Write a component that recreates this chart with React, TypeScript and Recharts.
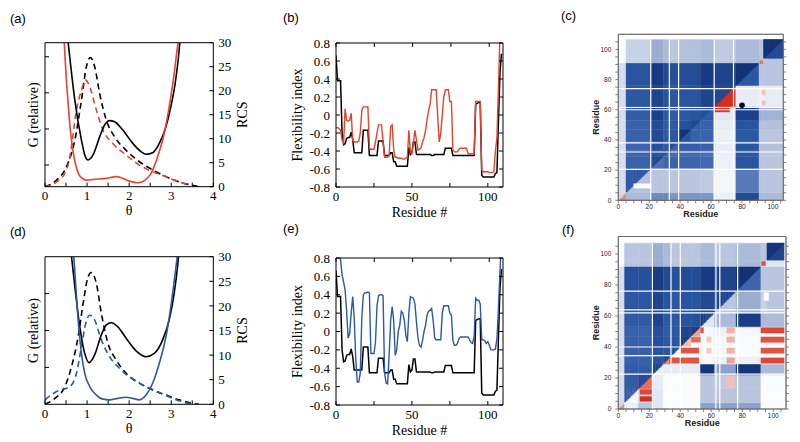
import React from 'react';
import { ComposedChart, Line, LineChart, ReferenceArea, ReferenceLine, Scatter, XAxis, YAxis } from 'recharts';

const SERIF = '"Liberation Serif", "Times New Roman", serif';
const SANS = '"Liberation Sans", Arial, sans-serif';
const RED = '#e4432c';
const BLUE = '#2b58a7';

type Pt = [number, number];
type Box = [number, number, number, number, number]; // x1, x2, y1, y2, value

// ---- (a) theta scans: G on left axis, RCS on right axis ----
const aBlackG: Pt[] = [[0.551, 3.39], [0.614, 2.72], [0.709, 1.8], [0.866, 0.69], [0.945, 0.28], [1.024, 0.14], [1.142, 0.28], [1.299, 0.78], [1.417, 1.11], [1.535, 1.23], [1.654, 1.2], [1.85, 0.97], [2.087, 0.6], [2.283, 0.37], [2.402, 0.3], [2.559, 0.34], [2.717, 0.6], [2.874, 1.06], [2.992, 1.62], [3.094, 2.26], [3.173, 3.0], [3.205, 3.39]];
const aRedG: Pt[] = [[0.457, 3.39], [0.5, 2.5], [0.55, 1.7], [0.6, 1.0], [0.65, 0.5], [0.72, 0.05], [0.8, -0.25], [0.9, -0.38], [1.0, -0.42], [1.142, -0.4], [1.457, -0.37], [1.693, -0.32], [1.85, -0.37], [2.047, -0.46], [2.205, -0.49], [2.362, -0.43], [2.52, -0.23], [2.677, 0.23], [2.835, 0.88], [2.953, 1.62], [3.071, 2.54], [3.15, 3.28], [3.165, 3.39]];
const aBlackRcs: Pt[] = [[0, 0], [0.276, 1.4], [0.512, 4.2], [0.709, 9.7], [0.866, 18], [0.984, 25], [1.079, 26.9], [1.181, 25], [1.299, 19.4], [1.457, 13.9], [1.654, 10.4], [1.929, 7.6], [2.244, 5.2], [2.559, 3.5], [2.874, 2.1], [3.189, 1.0], [3.504, 0.3], [3.661, 0]];
const aRedRcs: Pt[] = [[0, 0], [0.276, 1.0], [0.512, 3.5], [0.591, 6.25], [0.748, 16], [0.866, 20.1], [0.969, 22.2], [1.063, 20.8], [1.22, 16], [1.378, 11.8], [1.614, 9.0], [1.929, 6.6], [2.244, 4.5], [2.559, 3.1], [2.874, 2.1], [3.189, 1.0], [3.425, 0.35]];

// ---- (d) theta scans ----
const dBlackG: Pt[] = [[0.63, 4.0], [0.709, 3.19], [0.827, 2.1], [0.945, 1.38], [1.047, 1.13], [1.181, 1.34], [1.339, 1.88], [1.457, 2.15], [1.575, 2.21], [1.732, 2.1], [1.929, 1.79], [2.165, 1.45], [2.402, 1.29], [2.598, 1.38], [2.795, 1.74], [2.953, 2.29], [3.071, 3.01], [3.15, 3.73], [3.173, 4.0]];
const dBlueG: Pt[] = [[0.685, 4.0], [0.732, 3.19], [0.787, 2.29], [0.866, 1.38], [0.945, 0.84], [1.063, 0.48], [1.22, 0.25], [1.378, 0.14], [1.535, 0.12], [1.732, 0.16], [1.929, 0.19], [2.087, 0.16], [2.244, 0.12], [2.402, 0.25], [2.559, 0.57], [2.717, 1.11], [2.874, 1.83], [2.992, 2.65], [3.094, 3.55], [3.142, 4.0]];
const dBlackRcs: Pt[] = [[0, 0], [0.236, 1.2], [0.472, 3.6], [0.63, 7.65], [0.787, 13.7], [0.906, 20.5], [1.024, 25.9], [1.102, 26.8], [1.22, 24.6], [1.339, 18.5], [1.496, 12.4], [1.693, 9.0], [1.929, 6.3], [2.244, 4.3], [2.559, 2.9], [2.874, 1.9], [3.189, 0.9], [3.504, 0.2], [3.66, 0]];
const dBlueRcs: Pt[] = [[0, 0.9], [0.197, 2.2], [0.394, 3.0], [0.512, 3.25], [0.63, 3.9], [0.748, 6.3], [0.866, 11.7], [0.969, 16.5], [1.063, 18.1], [1.181, 17.1], [1.339, 13.1], [1.535, 9.7], [1.772, 7.3], [2.087, 5.1], [2.402, 3.6], [2.717, 2.4], [3.031, 1.2], [3.346, 0.34], [3.58, 0]];

// ---- (b)/(e) flexibility index per residue 0..109 ----
const blackFlex = [
  0.66, 0.38, 0.38, 0.38, -0.2, -0.33, -0.32, -0.26, -0.25, -0.25,
  -0.19, -0.27, -0.42, -0.42, -0.42, -0.42, -0.42, -0.42, -0.17, -0.17,
  -0.17, -0.17, -0.45, -0.45, -0.45, -0.45, -0.45, -0.45, -0.29, -0.29,
  -0.29, -0.29, -0.45, -0.45, -0.45, -0.45, -0.42, -0.42, -0.52, -0.52,
  -0.57, -0.57, -0.57, -0.57, -0.57, -0.57, -0.57, -0.57, -0.36, -0.44,
  -0.42, -0.3, -0.3, -0.44, -0.44, -0.44, -0.44, -0.44, -0.44, -0.44,
  -0.44, -0.44, -0.44, -0.45, -0.45, -0.44, -0.44, -0.44, -0.44, -0.44,
  -0.44, -0.44, -0.37, -0.37, -0.37, -0.37, -0.37, -0.45, -0.45, -0.45,
  -0.45, -0.45, -0.45, -0.45, -0.45, -0.45, -0.45, -0.45, -0.45, -0.45,
  -0.45, -0.45, 0.12, 0.13, 0.14, 0.14, -0.67, -0.69, -0.69, -0.69,
  -0.69, -0.69, -0.69, -0.69, -0.69, -0.65, -0.64, -0.07, 0.47, 0.68,
];
const redFlex = [
  -0.14, -0.14, -0.15, -0.17, -0.28, -0.31, 0.07, -0.06, -0.07, -0.06,
  0.02, -0.28, -0.3, -0.3, -0.3, -0.29, -0.2, 0.05, 0.09, 0.09,
  0.09, 0.09, -0.37, -0.38, -0.38, -0.38, -0.3, -0.2, -0.11, -0.11,
  -0.11, -0.3, -0.47, -0.47, -0.47, -0.45, -0.13, -0.11, -0.39, -0.47,
  -0.47, -0.48, -0.48, -0.48, -0.49, -0.49, -0.48, -0.47, -0.17, -0.42,
  -0.43, -0.3, -0.17, -0.28, -0.39, -0.38, -0.37, -0.3, -0.25, -0.17,
  -0.05, 0.05, 0.12, 0.28, 0.28, 0.28, 0.28, -0.02, -0.3, -0.2,
  0.0, 0.2, 0.28, 0.28, 0.28, 0.15, 0.15, -0.39, -0.41, -0.41,
  -0.41, -0.38, -0.37, -0.37, -0.37, -0.37, -0.37, -0.43, -0.43, -0.43,
  -0.43, -0.43, 0.15, 0.15, 0.15, 0.15, -0.61, -0.63, -0.63, -0.63,
  -0.63, -0.64, -0.64, -0.64, -0.63, -0.4, -0.25, 0.3, 0.9, 1.2,
];
const blueFlex = [
  1.2, 1.1, 0.95, 0.78, 0.62, 0.54, 0.45, 0.22, -0.07, -0.02,
  0.2, 0.38, 0.15, -0.3, -0.55, -0.55, -0.45, 0.15, 0.4, 0.42,
  0.42, 0.43, 0.42, -0.24, -0.24, -0.24, -0.12, 0.28, 0.39, 0.4,
  0.4, 0.39, -0.45, -0.56, -0.57, -0.26, 0.12, 0.27, 0.12, -0.26,
  -0.2, 0.0, 0.07, 0.22, 0.2, 0.12, -0.04, -0.11, 0.2, 0.38,
  0.37, 0.36, 0.3, 0.1, -0.07, -0.15, -0.17, -0.1, 0.0, 0.07,
  0.18, 0.22, 0.23, 0.25, 0.12, -0.07, -0.09, -0.09, -0.09, -0.09,
  0.2, 0.28, 0.28, 0.28, 0.28, 0.2, 0.18, -0.1, -0.15, -0.15,
  -0.13, -0.08, -0.06, -0.06, -0.06, -0.06, -0.06, -0.06, -0.09, -0.12,
  -0.13, -0.05, 0.36, 0.34, 0.34, 0.3, -0.09, -0.09, -0.1, -0.13,
  -0.11, -0.15, -0.2, -0.2, -0.2, -0.19, -0.08, 0.25, 0.65, 1.0,
];

// ---- (c) contact map: segment breaks, block values (row = y segment), +blue / -red ----
const cBreaks = [0, 5, 21, 29, 33, 39, 47, 53, 62, 76, 91, 94, 106.5];
const cGrid = [
  [0.2, 0.35, 0.55, 0.55, 0.5, 0.5, 0.5, 0.5, 0.1, 0.85, 0.35, 0.35],
  [0.2, 0.78, 0.3, 0.3, 0.3, 0.3, 0.3, 0.28, 0.06, 0.62, 0.3, 0.3],
  [0.2, 0.72, 0.85, 0.7, 0.7, 0.7, 0.7, 0.68, 0.1, 0.8, 0.3, 0.3],
  [0.2, 0.7, 0.8, 0.8, 0.68, 0.68, 0.68, 0.66, 0.1, 0.78, 0.3, 0.3],
  [0.2, 0.7, 0.82, 0.76, 0.82, 0.74, 0.74, 0.72, 0.12, 0.8, 0.32, 0.32],
  [0.2, 0.72, 0.85, 0.76, 0.78, 0.96, 0.72, 0.7, 0.1, 0.78, 0.3, 0.3],
  [0.2, 0.72, 0.85, 0.76, 0.76, 0.82, 0.86, 0.72, 0.12, 0.8, 0.32, 0.32],
  [0.2, 0.75, 0.9, 0.78, 0.76, 0.78, 0.8, 0.82, 0.15, 0.9, 0.38, 0.38],
  [0.2, 0.78, 0.88, 0.8, 0.78, 0.8, 0.8, 0.88, 0.85, 0.12, 0.1, 0.12],
  [0.2, 0.8, 0.93, 0.85, 0.82, 0.84, 0.84, 0.93, 0.88, 0.97, 0.3, 0.3],
  [0.03, 0.25, 0.4, 0.35, 0.3, 0.32, 0.32, 0.35, 0.28, 0.35, 0.3, 0.3],
  [0.03, 0.25, 0.4, 0.35, 0.3, 0.32, 0.32, 0.35, 0.28, 0.35, 0.3, 0.97],
];
const cDiagLower = [-0.5, 0.32, 0.65, 0.68, 0.7, 0.8, 0.75, 0.75, -0.85, 0.78, 0.3, 0.85];
const cPatches: Box[] = [
  [62, 72, 58.5, 62, -0.8],
  [91.5, 93.5, 90.5, 92.5, -0.6],
  [93, 95, 70, 73, -0.3],
  [93, 95, 63, 66, -0.3],
  [10, 21, 8, 11, 0.03],
];
const cLinesX = [21, 33, 39, 62, 74.5];
const cLinesY = [20.5, 32, 38, 60, 61.5, 74];
const cDot = [{ x: 80, y: 63 }];

// ---- (f) contact map ----
const fBreaks = [0, 4, 13, 22, 29, 34, 40, 47, 53, 62, 76, 92, 96, 107];
const fGrid = [
  [0.2, 0.1, 0.3, 0.15, 0.02, 0.02, 0.02, 0.02, 0.45, 0.45, 0.45, 0.02, 0.02],
  [0.2, 0.75, 0.25, 0.15, 0.02, 0.02, 0.02, 0.02, 0.3, 0.3, 0.3, 0.02, 0.02],
  [0.2, 0.75, 0.85, 0.12, 0.02, 0.02, 0.02, 0.02, 0.3, 0.28, 0.3, 0.02, 0.02],
  [0.2, 0.75, 0.75, 0.88, 0.12, 0.12, 0.12, 0.12, 0.95, 0.45, 0.95, 0.35, 0.35],
  [0.2, 0.72, 0.72, 0.8, 0.85, 0.04, 0.04, 0.04, 0.05, 0.1, 0.1, 0.05, 0.05],
  [0.2, 0.72, 0.72, 0.8, 0.78, 0.85, 0.03, 0.03, 0.03, 0.06, 0.03, 0.05, 0.05],
  [0.2, 0.72, 0.72, 0.82, 0.78, 0.8, 0.92, 0.03, 0.03, 0.06, 0.03, 0.05, 0.05],
  [0.2, 0.72, 0.72, 0.82, 0.76, 0.78, 0.88, 0.95, 0.05, 0.1, 0.05, 0.05, 0.05],
  [0.2, 0.76, 0.76, 0.88, 0.78, 0.78, 0.8, 0.82, 0.9, 0.35, 0.92, 0.35, 0.35],
  [0.2, 0.78, 0.78, 0.88, 0.8, 0.78, 0.8, 0.8, 0.86, 0.88, 0.4, 0.25, 0.3],
  [0.2, 0.82, 0.82, 0.92, 0.85, 0.82, 0.84, 0.84, 0.93, 0.88, 0.97, 0.3, 0.3],
  [0.03, 0.3, 0.3, 0.4, 0.35, 0.3, 0.3, 0.3, 0.35, 0.3, 0.35, 0.3, 0.15],
  [0.03, 0.3, 0.3, 0.4, 0.35, 0.3, 0.3, 0.3, 0.35, 0.3, 0.35, 0.3, 0.95],
];
const fDiagLower = [-0.5, 0.05, -0.6, 0.1, -0.5, 0.02, -0.3, -0.4, 0.15, 0.3, 0.7, 0.2, 0.88];
const fPatches: Box[] = [
  [33, 52, 29.5, 33, -0.7],
  [40, 52, 36, 39.5, -0.7],
  [47, 53, 43, 46.5, -0.6],
  [53, 55, 49, 52.5, -0.7],
  [92, 107, 29.5, 33, -0.75],
  [92, 107, 36, 39.5, -0.7],
  [92, 107, 43, 46.5, -0.7],
  [92, 107, 49, 52.5, -0.75],
  [70, 75, 29.5, 33, -0.4],
  [70, 75, 36, 39.5, -0.35],
  [70, 75, 43, 46.5, -0.35],
  [70, 75, 49, 52.5, -0.35],
  [57, 60, 36, 39.5, -0.25],
  [57, 60, 43, 46.5, -0.25],
  [14, 22, 5, 8, -0.85],
  [14, 22, 9.5, 12.5, -0.75],
  [70, 75, 13.5, 21, -0.3],
  [92.5, 95, 92.5, 95, -0.7],
  [94, 97, 70, 75, 0.0],
];
const fLinesX = [22, 34, 40, 63, 65.5, 77];
const fLinesY = [22.5, 34.5, 40, 62, 64, 76];

// ---- axis ticks ----
const thetaTicks = [0, 0.5, 1, 1.5, 2, 2.5, 3, 3.5, 4];
const rcsTicks = [0, 5, 10, 15, 20, 25, 30];
const flexTicks = [-0.8, -0.6, -0.4, -0.2, 0, 0.2, 0.4, 0.6, 0.8];
const residueTicks = [0, 25, 50, 75, 100];
const mapTicks = [0, 5, 10, 15, 20, 25, 30, 35, 40, 45, 50, 55, 60, 65, 70, 75, 80, 85, 90, 95, 100, 105];

// colour map: 0 white, + blue, - red
const blueStops = [[0, 255, 255, 255], [0.1, 236, 240, 247], [0.2, 214, 222, 237], [0.3, 186, 198, 223], [0.45, 140, 162, 204], [0.6, 92, 126, 188], [0.7, 60, 100, 172], [0.8, 40, 84, 160], [0.9, 27, 64, 138], [1, 16, 44, 110]];
const redStops = [[0, 255, 255, 255], [0.3, 243, 190, 180], [0.6, 232, 110, 90], [0.85, 215, 45, 28], [1, 185, 20, 10]];
function shade(v: number) {
  const stops = v < 0 ? redStops : blueStops;
  const a = Math.min(1, Math.abs(v));
  let i = 0;
  while (i < stops.length - 2 && a > stops[i + 1][0]) i++;
  const [p0, r0, g0, b0] = stops[i];
  const [p1, r1, g1, b1] = stops[i + 1];
  const f = (a - p0) / (p1 - p0);
  return `rgb(${Math.round(r0 + (r1 - r0) * f)},${Math.round(g0 + (g1 - g0) * f)},${Math.round(b0 + (b1 - b0) * f)})`;
}

// blocks from the segment grid; diagonal blocks get a lower fill plus stepped upper triangle
function buildCells(breaks: number[], grid: number[][], diagLower: number[], patches: Box[]): Box[] {
  const out: Box[] = [];
  const n = breaks.length - 1;
  for (let r = 0; r < n; r++) {
    for (let c = 0; c < n; c++) {
      const x1 = breaks[c], x2 = breaks[c + 1], y1 = breaks[r], y2 = breaks[r + 1];
      if (r !== c) {
        out.push([x1, x2, y1, y2, grid[r][c]]);
        continue;
      }
      out.push([x1, x2, y1, y2, diagLower[r]]);
      for (let x = x1; x < x2; x += 1) {
        const xe = Math.min(x + 1, x2);
        out.push([x, xe, (x + xe) / 2, y2, grid[r][r]]);
      }
    }
  }
  return out.concat(patches);
}

const blank = () => '';
const black = { stroke: '#000', strokeWidth: 1 };
const serifTick = { fill: '#000', fontSize: 13, fontFamily: SERIF };

type Curve = { pts: Pt[]; axis: 'g' | 'rcs'; color: string; dashed?: boolean };

function ThetaPanel({ top, height, mt, mb, gDomain, gTicks, curves }: { top: number; height: number; mt: number; mb: number; gDomain: number[]; gTicks: number[]; curves: Curve[] }) {
  return (
    <div style={{ position: 'absolute', left: 0, top }}>
      <LineChart width={275} height={height} margin={{ top: mt, right: 4.7, bottom: mb, left: 21 }}>
        <XAxis type="number" dataKey="t" domain={[0, 4]} ticks={thetaTicks} interval={0} allowDataOverflow
          tickFormatter={(v: number) => (Number.isInteger(v) ? String(v) : '')} tickSize={-4} tickMargin={8} height={30}
          axisLine={black} tickLine={black} tick={serifTick}
          label={{ value: 'θ', position: 'insideBottom', offset: 1.5, fontSize: 14, fontFamily: SERIF, fill: '#000' }} />
        <XAxis xAxisId="top" orientation="top" type="number" domain={[0, 4]} ticks={thetaTicks} interval={0} allowDataOverflow
          tickFormatter={blank} tickSize={-4} height={1} axisLine={black} tickLine={black} />
        <YAxis yAxisId="g" type="number" domain={gDomain} ticks={gTicks} interval={0} allowDataOverflow
          tickFormatter={blank} tickSize={-4} width={24} axisLine={black} tickLine={black}
          label={{ value: 'G (relative)', angle: -90, position: 'center', fontSize: 14, fontFamily: SERIF, fill: '#000' }} />
        <YAxis yAxisId="rcs" orientation="right" type="number" domain={[0, 30]} ticks={rcsTicks} interval={0} allowDataOverflow
          tickSize={-4} tickMargin={9} width={57} axisLine={black} tickLine={black} tick={serifTick}
          label={{ value: 'RCS', angle: -90, position: 'center', fontSize: 14, fontFamily: SERIF, fill: '#000' }} />
        {curves.map((c, i) => (
          <Line key={i} data={c.pts.map(([t, v]) => ({ t, v }))} dataKey="v" yAxisId={c.axis} type="monotone"
            stroke={c.color} strokeWidth={1.6} strokeDasharray={c.dashed ? '6 4' : undefined}
            dot={false} activeDot={false} isAnimationActive={false} />
        ))}
      </LineChart>
    </div>
  );
}

function FlexPanel({ top, height, mt, mb, other, color }: { top: number; height: number; mt: number; mb: number; other: number[]; color: string }) {
  const rows = blackFlex.map((b, i) => ({ r: i, black: b, other: other[i] }));
  return (
    <div style={{ position: 'absolute', left: 258, top }}>
      <LineChart width={250} height={height} data={rows} margin={{ top: mt, right: 4, bottom: mb, left: 0 }}>
        <XAxis type="number" dataKey="r" domain={[0, 110]} ticks={residueTicks} interval={0} allowDataOverflow
          tickFormatter={(v: number) => (v % 50 === 0 ? String(v) : '')} tickSize={-4} tickMargin={9} height={30}
          axisLine={black} tickLine={black} tick={serifTick}
          label={{ value: 'Residue #', position: 'insideBottom', offset: 0, fontSize: 14, fontFamily: SERIF, fill: '#000' }} />
        <XAxis xAxisId="top" orientation="top" type="number" domain={[0, 110]} ticks={residueTicks} interval={0} allowDataOverflow
          tickFormatter={blank} tickSize={-4} height={1} axisLine={black} tickLine={black} />
        <YAxis type="number" domain={[-0.8, 0.8]} ticks={flexTicks} interval={0} allowDataOverflow
          tickSize={-4} tickMargin={10} width={78} axisLine={black} tickLine={black} tick={serifTick}
          label={{ value: 'Flexibility index', angle: -90, position: 'center', fontSize: 14, fontFamily: SERIF, fill: '#000' }} />
        <YAxis yAxisId="r" orientation="right" type="number" domain={[-0.8, 0.8]} ticks={flexTicks} interval={0} allowDataOverflow
          tickFormatter={blank} tickSize={-4} width={1} axisLine={black} tickLine={black} />
        <Line dataKey="black" type="linear" stroke="#000" strokeWidth={1.5} dot={false} activeDot={false} isAnimationActive={false} />
        <Line dataKey="other" type="linear" stroke={color} strokeWidth={1.4} dot={false} activeDot={false} isAnimationActive={false} />
      </LineChart>
    </div>
  );
}

function Heatmap(props: {
  top: number; height: number; margin: { top: number; right: number; bottom: number; left: number };
  xMax: number; yMax: number; breaks: number[]; grid: number[][]; diagLower: number[]; patches: Box[];
  linesX: number[]; linesY: number[]; dots?: { x: number; y: number }[];
}) {
  const { top, height, margin, xMax, yMax, breaks, grid, diagLower, patches, linesX, linesY, dots } = props;
  const cells = buildCells(breaks, grid, diagLower, patches);
  const end = breaks[breaks.length - 1];
  const frame = { stroke: '#666', strokeWidth: 0.8 };
  const tick = { fill: '#222', fontSize: 6.5, fontFamily: SANS };
  const lab = (v: number) => (v % 20 === 0 ? String(v) : '');
  return (
    <div style={{ position: 'absolute', left: 560, top }}>
      <ComposedChart width={240} height={height} margin={margin}>
        <XAxis type="number" dataKey="x" domain={[0, xMax]} ticks={mapTicks} interval={0} allowDataOverflow
          tickFormatter={lab} tickSize={3} tickMargin={1} height={20} axisLine={frame} tickLine={frame} tick={tick}
          label={{ value: 'Residue', position: 'insideBottom', offset: 3, fontSize: 9, fontWeight: 'bold', fontFamily: SANS, fill: '#222' }} />
        <XAxis xAxisId="top" orientation="top" type="number" domain={[0, xMax]} ticks={mapTicks} interval={0} allowDataOverflow
          tickFormatter={blank} tickSize={3} height={1} axisLine={frame} tickLine={frame} />
        <YAxis type="number" dataKey="y" domain={[0, yMax]} ticks={mapTicks} interval={0} allowDataOverflow
          tickFormatter={lab} tickSize={3} tickMargin={4} width={44} axisLine={frame} tickLine={frame} tick={tick}
          label={{ value: 'Residue', angle: -90, position: 'center', fontSize: 9, fontWeight: 'bold', fontFamily: SANS, fill: '#222' }} />
        <YAxis yAxisId="r" orientation="right" type="number" domain={[0, yMax]} ticks={mapTicks} interval={0} allowDataOverflow
          tickFormatter={blank} tickSize={3} width={1} axisLine={frame} tickLine={frame} />
        {cells.map(([x1, x2, y1, y2, v], i) => (
          <ReferenceArea key={`c${i}`} x1={x1} x2={x2} y1={y1} y2={y2} fill={shade(v)} fillOpacity={1}
            stroke={shade(v)} strokeWidth={0.4} />
        ))}
        {linesX.map((x) => (
          <ReferenceLine key={`vx${x}`} segment={[{ x, y: 0 }, { x, y: end }]} stroke="#fff" strokeWidth={1.2} isFront />
        ))}
        {linesY.map((y) => (
          <ReferenceLine key={`hy${y}`} segment={[{ x: 0, y }, { x: end, y }]} stroke="#fff" strokeWidth={1.2} isFront />
        ))}
        {dots && (
          <Scatter data={dots} isAnimationActive={false}
            shape={(p: any) => <circle cx={p.cx} cy={p.cy} r={2.8} fill="#000" />} />
        )}
        <ReferenceArea x1={0} x2={xMax} y1={0} y2={yMax} fill="none" stroke="#666" strokeWidth={0.8} isFront />
      </ComposedChart>
    </div>
  );
}

const panelLabel = (text: string, left: number, top: number) => (
  <div style={{ position: 'absolute', left, top, fontFamily: SANS, fontSize: 13, lineHeight: 1, color: '#000' }}>{text}</div>
);

export default function App() {
  return (
    <div style={{ position: 'absolute', left: 0, top: 0, width: 800, height: 442, background: '#fff', overflow: 'hidden' }}>
      <ThetaPanel top={20} height={200} mt={21.7} mb={3.3} gDomain={[-0.6, 3.39]} gTicks={[0, 1, 2, 3]}
        curves={[
          { pts: aBlackRcs, axis: 'rcs', color: '#000', dashed: true },
          { pts: aRedRcs, axis: 'rcs', color: RED, dashed: true },
          { pts: aBlackG, axis: 'g', color: '#000' },
          { pts: aRedG, axis: 'g', color: RED },
        ]} />
      <ThetaPanel top={230} height={212} mt={25.7} mb={7.7} gDomain={[0, 4]} gTicks={[1, 2, 3]}
        curves={[
          { pts: dBlackRcs, axis: 'rcs', color: '#000', dashed: true },
          { pts: dBlueRcs, axis: 'rcs', color: BLUE, dashed: true },
          { pts: dBlackG, axis: 'g', color: '#000' },
          { pts: dBlueG, axis: 'g', color: BLUE },
        ]} />
      <FlexPanel top={20} height={200} mt={22} mb={3} other={redFlex} color={RED} />
      <FlexPanel top={230} height={212} mt={27} mb={7} other={blueFlex} color={BLUE} />
      <Heatmap top={20} height={205} margin={{ top: 13.3, right: 15.7, bottom: 4.7, left: 14.3 }}
        xMax={106.7} yMax={110} breaks={cBreaks} grid={cGrid} diagLower={cDiagLower} patches={cPatches}
        linesX={cLinesX} linesY={cLinesY} dots={cDot} />
      <Heatmap top={222} height={220} margin={{ top: 13.5, right: 13, bottom: 13, left: 14.3 }}
        xMax={108.2} yMax={111.3} breaks={fBreaks} grid={fGrid} diagLower={fDiagLower} patches={fPatches}
        linesX={fLinesX} linesY={fLinesY} />
      {panelLabel('(a)', 10, 12)}
      {panelLabel('(b)', 283, 11)}
      {panelLabel('(c)', 561, 9)}
      {panelLabel('(d)', 10, 225)}
      {panelLabel('(e)', 283, 222)}
      {panelLabel('(f)', 562, 223)}
    </div>
  );
}
